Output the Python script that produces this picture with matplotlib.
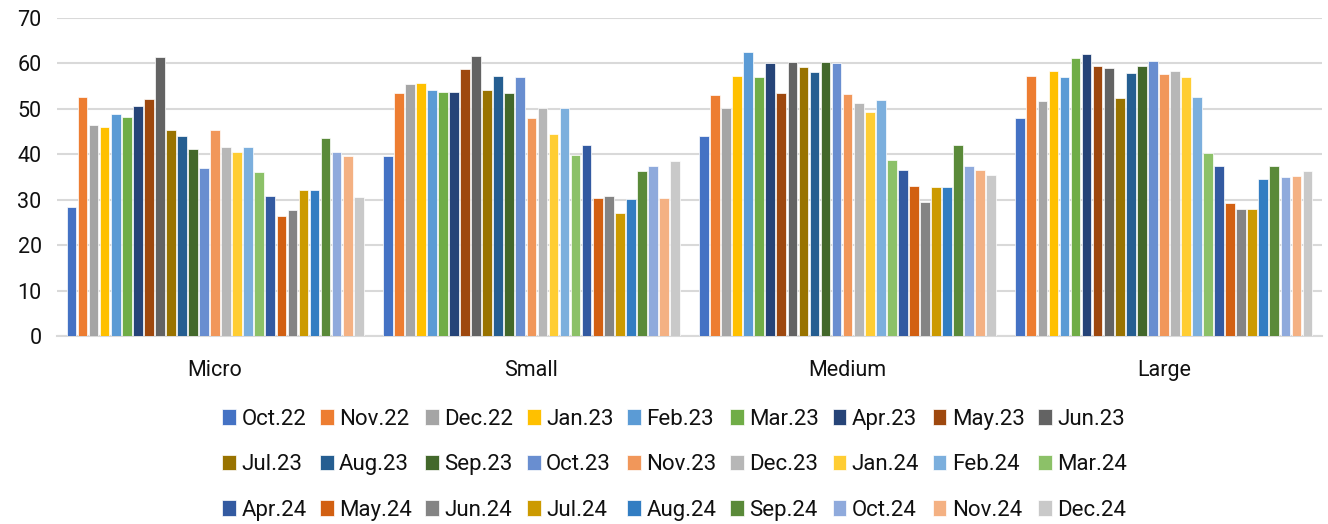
import numpy as np
import matplotlib
matplotlib.use('Agg')
import matplotlib.pyplot as plt

categories = ['Micro', 'Small', 'Medium', 'Large']

months = ['Oct.22', 'Nov.22', 'Dec.22', 'Jan.23', 'Feb.23', 'Mar.23', 'Apr.23',
          'May.23', 'Jun.23', 'Jul.23', 'Aug.23', 'Sep.23', 'Oct.23', 'Nov.23',
          'Dec.23', 'Jan.24', 'Feb.24', 'Mar.24', 'Apr.24', 'May.24', 'Jun.24',
          'Jul.24', 'Aug.24', 'Sep.24', 'Oct.24', 'Nov.24', 'Dec.24']

micro = [28.3, 52.6, 46.4, 46.0, 48.9, 48.2, 50.7, 52.2, 61.4, 45.4, 44.1, 41.2,
         36.9, 45.4, 41.6, 40.5, 41.5, 36.0, 30.8, 26.4, 27.8, 32.1, 32.1, 43.6,
         40.4, 39.5, 30.5]
small = [39.6, 53.4, 55.5, 55.7, 54.1, 53.7, 53.7, 58.8, 61.7, 54.2, 57.3, 53.5,
         57.0, 48.0, 50.1, 44.5, 50.1, 39.9, 42.1, 30.3, 30.8, 27.0, 30.1, 36.3,
         37.4, 30.4, 38.5]
medium = [44.0, 53.0, 50.2, 57.3, 62.4, 57.0, 60.1, 53.5, 60.3, 59.1, 58.1, 60.2,
          60.1, 53.2, 51.3, 49.3, 51.9, 38.8, 36.6, 33.1, 29.4, 32.7, 32.7, 42.1,
          37.4, 36.5, 35.5]
large = [48.0, 57.3, 51.8, 58.4, 57.0, 61.1, 62.1, 59.5, 59.0, 52.3, 57.9, 59.3,
         60.4, 57.6, 58.3, 57.0, 52.6, 40.2, 37.4, 29.3, 28.0, 28.0, 34.6, 37.4,
         34.9, 35.2, 36.3]

colors = ['#4472C4', '#ED7D31', '#A5A5A5', '#FFC000', '#5B9BD5', '#70AD47',
          '#264478', '#9E480E', '#636363', '#997300', '#255E91', '#43682B',
          '#698ED0', '#F1975A', '#B7B7B7', '#FFCD33', '#7CAFDD', '#8CC168',
          '#335AA1', '#D26012', '#848484', '#CC9A00', '#327DC2', '#5A8A39',
          '#8FAADC', '#F4B183', '#C9C9C9']

values = np.array([micro, small, medium, large])  # shape (4, 27)

plt.rcParams['font.family'] = ['Roboto', 'DejaVu Sans']

n = len(months)
gap = 1.63
slot = 1 / (n + gap)
x = np.arange(len(categories))
text_color = '#111111'

fig = plt.figure(figsize=(13.28, 5.24), dpi=100)
ax = fig.add_axes([0.0429, 0.3588, 0.9526, 0.6072])

handles = []
for i, month in enumerate(months):
    pos = x - 0.5 + (gap / 2 + i + 0.5) * slot
    b = ax.bar(pos, values[:, i], width=slot * 0.88, color=colors[i],
               edgecolor='white', linewidth=0.5, label=month, zorder=3)
    handles.append(b)

ax.set_xlim(-0.5, len(categories) - 0.5)
ax.set_ylim(0, 70)
ax.set_yticks(range(0, 71, 10))
ax.yaxis.grid(True, color='#D9D9D9', linewidth=1.5, zorder=0)
ax.set_axisbelow(True)
for side in ['top', 'right', 'left']:
    ax.spines[side].set_visible(False)
ax.spines['bottom'].set_color('#D9D9D9')
ax.spines['bottom'].set_linewidth(1.5)

ax.set_xticks(x)
ax.set_xticklabels(categories, fontsize=15.5, color=text_color)
ax.tick_params(axis='x', length=0, pad=17)
ax.tick_params(axis='y', length=0, pad=11, labelsize=15.5, labelcolor=text_color)

# legend filled row by row like the original
order = [r * 9 + c for c in range(9) for r in range(3)]
fig.legend([handles[k] for k in order], [months[k] for k in order],
           loc='center', bbox_to_anchor=(0.508, 0.113), ncol=9, frameon=False,
           prop={'size': 16},
           handlelength=0.62, handleheight=0.7, handletextpad=0.25,
           columnspacing=0.6, labelspacing=1.1, labelcolor=text_color)

fig.savefig('out.png', dpi=100)
